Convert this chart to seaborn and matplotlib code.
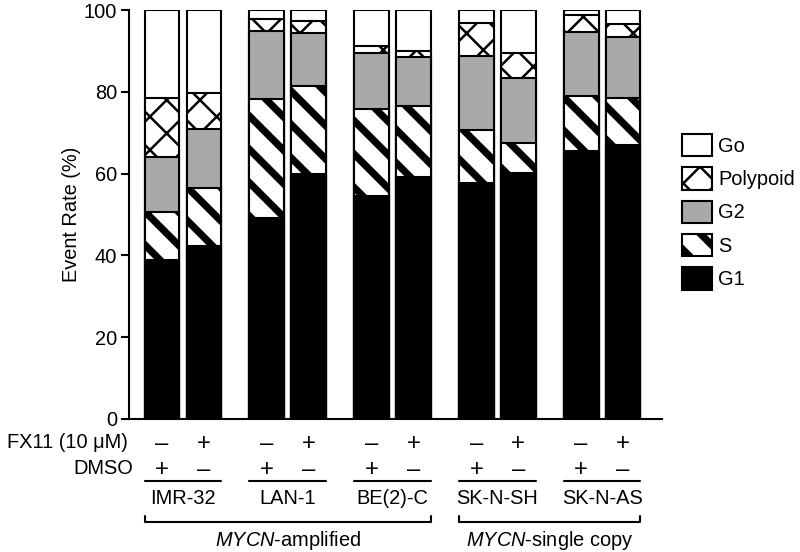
import matplotlib
matplotlib.use("Agg")
import matplotlib.pyplot as plt
import matplotlib.transforms as mtransforms
from matplotlib.patches import Patch
import numpy as np
import seaborn as sns

# cell cycle phase fractions (%) per bar
cell_lines = ["IMR-32", "LAN-1", "BE(2)-C", "SK-N-SH", "SK-N-AS"]
fx11 = ["–", "+", "–", "+", "–", "+", "–", "+", "–", "+"]
dmso = ["+", "–", "+", "–", "+", "–", "+", "–", "+", "–"]
positions = [0, 1, 2.5, 3.5, 5, 6, 7.5, 8.5, 10, 11]

g1 = [38.8, 42.4, 49.1, 59.9, 54.6, 59.1, 57.6, 60.1, 65.6, 67.0]
s_phase = [11.8, 14.1, 29.1, 21.4, 21.2, 17.5, 13.1, 7.5, 13.4, 11.6]
g2 = [13.4, 14.4, 16.7, 13.0, 13.6, 11.8, 18.1, 15.7, 15.6, 14.9]
polypoid = [14.6, 8.9, 3.0, 2.9, 1.8, 1.6, 7.9, 6.1, 4.1, 3.1]
go = [21.4, 20.2, 2.1, 2.8, 8.8, 10.0, 3.3, 10.6, 1.3, 3.4]

groups = ["MYCN-amplified", "MYCN-single copy"]

sns.set_style("ticks")
plt.rcParams["font.family"] = ["Liberation Sans", "DejaVu Sans"]
plt.rcParams["mathtext.fontset"] = "custom"
plt.rcParams["mathtext.it"] = "Liberation Sans:italic"
plt.rcParams["mathtext.rm"] = "Liberation Sans"
for key in ["text.color", "axes.labelcolor", "xtick.color", "ytick.color", "axes.edgecolor"]:
    plt.rcParams[key] = "black"

FS = 7.2
SIGN_FS = 8.6
fig = plt.figure(figsize=(4, 2.76), dpi=200)
ax = fig.add_axes([129 / 800, 1 - 419 / 552, (662 - 129) / 800, (419 - 10) / 552])

# stack from the top layer down, each layer overdraws the ones above it
layers = [
    ("Go", go, "white", "", 0.7),
    ("Polypoid", polypoid, "white", "xx", 0.9),
    ("G2", g2, "#a9a9a9", "", 0.7),
    ("S", s_phase, "white", "\\\\", 2.6),
    ("G1", g1, "black", "", 0.7),
]
order = ["G1", "S", "G2", "Polypoid", "Go"]
vals = {name: np.array(v) for name, v, *_ in layers}
cum = {}
run = np.zeros(len(positions))
for name in order:
    run = run + vals[name]
    cum[name] = run.copy()
cum["Go"] = np.full(len(positions), 100.0)

handles = {}
for name, _, fc, hatch, hlw in layers:
    n0 = len(ax.patches)
    with plt.rc_context({"hatch.linewidth": hlw}):
        sns.barplot(x=positions, y=cum[name], native_scale=True, orient="x",
                    width=0.83, color=fc, saturation=1, edgecolor="black",
                    linewidth=0.75, errorbar=None, ax=ax)
        for p in ax.patches[n0:]:
            p.set_hatch(hatch)
            if hasattr(p, "set_hatch_linewidth"):
                p.set_hatch_linewidth(hlw)
        handles[name] = (Patch(facecolor=fc, edgecolor="black", hatch=hatch,
                               linewidth=0.75), hlw)

ax.set_xlim(-0.79, 11.93)
ax.set_ylim(0, 100)
ax.set_yticks([0, 20, 40, 60, 80, 100])
ax.set_xticks([])
ax.tick_params(axis="y", labelsize=FS, length=2.9, width=0.75, pad=1.4, color="black")
ax.set_ylabel("Event Rate (%)", fontsize=FS, labelpad=1.0)
ax.set_xlabel("")
sns.despine(ax=ax)
for sp in ["left", "bottom"]:
    ax.spines[sp].set_linewidth(0.75)
    ax.spines[sp].set_color("black")

# legend, top entry first
leg_names = ["Go", "Polypoid", "G2", "S", "G1"]
leg = fig.legend([handles[n][0] for n in leg_names], leg_names,
                 loc="upper left", bbox_to_anchor=(682 / 800, 1 - 134 / 552),
                 frameon=False, fontsize=FS, handlelength=1.5, handleheight=1.34,
                 labelspacing=0.55, handletextpad=0.3, borderpad=0, borderaxespad=0)
for p, n in zip(leg.get_patches(), leg_names):
    if hasattr(p, "set_hatch_linewidth"):
        p.set_hatch_linewidth(handles[n][1])

# treatment table under the axis
tr = mtransforms.blended_transform_factory(ax.transData, fig.transFigure)
y_fx, y_dm = 1 - 444 / 552, 1 - 470 / 552
for x, a, b in zip(positions, fx11, dmso):
    ax.text(x, y_fx, a, transform=tr, ha="center", va="center", fontsize=SIGN_FS)
    ax.text(x, y_dm, b, transform=tr, ha="center", va="center", fontsize=SIGN_FS)
fig.text(128 / 800, 1 - 443 / 552, "FX11 (10 μM)", ha="right", va="center", fontsize=FS)
fig.text(133 / 800, 1 - 469 / 552, "DMSO", ha="right", va="center", fontsize=FS)

hw = 0.415
y_ul, y_name = 1 - 481 / 552, 1 - 498 / 552
for i, name in enumerate(cell_lines):
    a, b = positions[2 * i], positions[2 * i + 1]
    ax.plot([a - hw, b + hw], [y_ul, y_ul], transform=tr, color="black",
            lw=0.75, clip_on=False)
    ax.text((a + b) / 2, y_name, name, transform=tr, ha="center", va="center",
            fontsize=FS)

y_br, y_brt, y_grp = 1 - 522 / 552, 1 - 516 / 552, 1 - 540 / 552
for (a, b), g in zip([(positions[0], positions[5]), (positions[6], positions[9])], groups):
    ax.plot([a - hw, a - hw, b + hw, b + hw], [y_brt, y_br, y_br, y_brt],
            transform=tr, color="black", lw=0.75, clip_on=False)
    label = "$MYCN$" + g[4:]
    ax.text((a + b) / 2, y_grp, label, transform=tr, ha="center", va="center",
            fontsize=FS)

fig.savefig("out.png", dpi=200)
